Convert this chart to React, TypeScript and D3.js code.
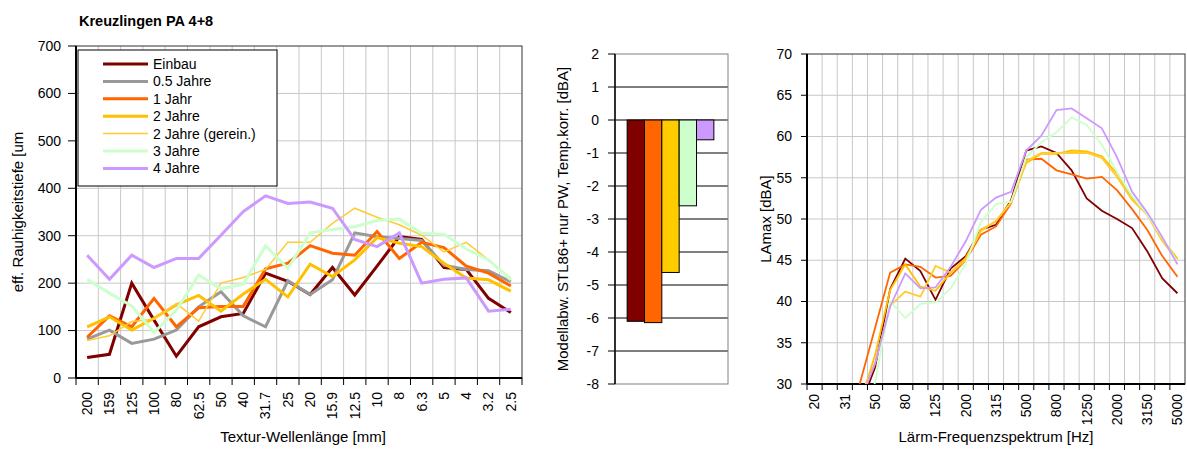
import React from 'react';
import * as d3 from 'd3';

// ---------- DATA ----------
const title = 'Kreuzlingen PA 4+8';
const wavelengths = ['200', '159', '125', '100', '80', '62.5', '50', '40', '31.7', '25', '20', '15.9', '12.5', '10', '8', '6.3', '5', '4', '3.2', '2.5'];
const seriesNames = ['Einbau', '0.5 Jahre', '1 Jahr', '2 Jahre', '2 Jahre (gerein.)', '3 Jahre', '4 Jahre'];
const seriesColors = ['#800000', '#999999', '#FF6600', '#FFC000', '#FFCC33', '#CCFFCC', '#CC99FF'];
const seriesWidths = [3, 3, 3, 3, 1.5, 3, 3];

const texEinbau = [43, 50, 200, 122, 46, 108, 129, 136, 221, 204, 176, 233, 175, 236, 298, 292, 233, 229, 168, 138];
const tex05 = [82, 101, 73, 82, 101, 150, 182, 131, 108, 205, 176, 207, 306, 298, 294, 290, 238, 229, 226, 203];
const tex1 = [86, 131, 108, 168, 108, 148, 151, 151, 230, 242, 279, 263, 259, 309, 252, 286, 275, 236, 221, 194];
const tex2 = [108, 129, 101, 126, 154, 174, 141, 177, 208, 171, 240, 214, 249, 296, 284, 277, 242, 211, 207, 183];
const tex2g = [79, 89, 119, 124, 157, 120, 200, 212, 229, 286, 286, 326, 358, 339, 323, 301, 266, 286, 249, 210];
const tex3 = [208, 179, 152, 96, 143, 217, 188, 198, 279, 231, 306, 313, 319, 332, 335, 305, 303, 272, 249, 207];
const tex4 = [259, 208, 259, 233, 252, 252, 301, 351, 384, 368, 371, 358, 292, 277, 306, 200, 208, 211, 141, 145];

const barSeries = ['Einbau', '1 Jahr', '2 Jahre', '3 Jahre', '4 Jahre'];
const barColors = ['#800000', '#FF6600', '#FFCC00', '#CCFFCC', '#CC99FF'];
const barValues = [-6.1, -6.14, -4.62, -2.6, -0.6];

const freqs = ['20', '25', '31', '40', '50', '63', '80', '100', '125', '160', '200', '250', '315', '400', '500', '630', '800', '1000', '1250', '1600', '2000', '2500', '3150', '4000', '5000'];
const laEinbau = [null, null, null, 27.2, 32.0, 41.5, 45.2, 43.7, 40.2, 44.0, 45.5, 48.7, 49.3, 52.3, 58.3, 58.8, 58.0, 55.9, 52.5, 51.0, 50.0, 48.9, 46.1, 42.8, 41.0];
const la1 = [null, null, 24, 30.1, 36.8, 43.5, 44.5, 44.2, 42.9, 43.1, 45.0, 48.1, 49.1, 51.9, 57.2, 57.3, 55.9, 55.4, 54.9, 55.1, 53.5, 51.2, 48.7, 45.5, 43.0];
const la2 = [null, null, null, 27.5, 33.5, 41.4, 44.5, 41.8, 41.3, 43.5, 45.3, 48.7, 49.7, 52.1, 56.8, 57.9, 57.9, 58.3, 58.2, 57.6, 55.5, 52.5, 50.7, 47.5, 45.2];
const la2g = [null, null, null, 28.5, 32.5, 39.5, 41.2, 40.6, 44.3, 43.5, 45.0, 48.5, 49.8, 52.0, 57.0, 58.0, 58.0, 58.0, 58.0, 57.4, 55.1, 52.3, 50.5, 47.3, 45.0];
const la3 = [null, null, null, 24, 30.2, 40.0, 38.0, 39.7, 39.9, 41.6, 44.6, 49.6, 51.8, 52.1, 57.5, 59.3, 60.5, 62.3, 61.4, 59.0, 55.7, 52.8, 50.6, 47.7, 44.8];
const la4 = [null, null, null, 27.8, 32.5, 39.4, 43.4, 41.6, 41.7, 44.2, 47.3, 51.1, 52.6, 53.3, 58.3, 60.1, 63.2, 63.4, 62.2, 61.0, 57.5, 53.3, 50.8, 47.8, 44.5];
const laColors = ['#800000', '#FF6600', '#FFC000', '#FFCC33', '#CCFFCC', '#CC99FF'];

const texSeries = [texEinbau, tex05, tex1, tex2, tex2g, tex3, tex4];
const laSeries = [laEinbau, la1, la2, la2g, la3, la4];

const FONT = '"Liberation Sans", Arial, sans-serif';
const GRID = '#C8C8C8';
const FS = 14;
const FT = 15;

export default function App() {
  // left chart
  const L = { x0: 76, x1: 522, y0: 378, y1: 46 };
  const xL = d3.scaleBand<string>().domain(wavelengths).range([L.x0, L.x1]);
  const yL = d3.scaleLinear().domain([0, 700]).range([L.y0, L.y1]);
  const cxL = (d: string) => (xL(d) as number) + xL.bandwidth() / 2;
  const lineL = d3.line<number>().x((_, i) => cxL(wavelengths[i])).y((v) => yL(v));
  const yTicksL = d3.range(0, 701, 100);

  // middle bars
  const M = { x0: 615, x1: 728, y0: 384, y1: 54 };
  const xM = d3.scaleBand<string>().domain(barSeries).range([615, 726]).paddingInner(0).paddingOuter(0.7);
  const yM = d3.scaleLinear().domain([-8, 2]).range([M.y0, M.y1]);
  const yTicksM = d3.range(-8, 3, 1);

  // right chart
  const R = { x0: 807, x1: 1185, y0: 384, y1: 54 };
  const xR = d3.scaleBand<string>().domain(freqs).range([R.x0, R.x1]);
  const yR = d3.scaleLinear().domain([30, 70]).range([R.y0, R.y1]);
  const cxR = (d: string) => (xR(d) as number) + xR.bandwidth() / 2;
  const lineR = d3
    .line<number | null>()
    .defined((v) => v !== null)
    .x((_, i) => cxR(freqs[i]))
    .y((v) => yR(v as number));
  const yTicksR = d3.range(30, 71, 5);

  const legendY = [64, 81.4, 98.8, 116.2, 133.6, 151, 168.4];

  return (
    <svg width={1187} height={454} style={{ position: 'absolute', left: 0, top: 0, background: '#fff' }} fontFamily={FONT}>
      <defs>
        <clipPath id="clipR">
          <rect x={R.x0} y={R.y1} width={R.x1 - R.x0} height={R.y0 - R.y1} />
        </clipPath>
      </defs>
      <text x={79} y={26} fontSize={14.5} fontWeight="bold" fill="#000">{title}</text>

      {/* ---------- LEFT CHART ---------- */}
      {yTicksL.slice(1, -1).map((t) => (
        <line key={'lg' + t} x1={L.x0} x2={L.x1} y1={yL(t)} y2={yL(t)} stroke={GRID} />
      ))}
      {wavelengths.map((w, i) =>
        i === 0 ? null : <line key={'lv' + w} x1={xL(w)} x2={xL(w)} y1={L.y1} y2={L.y0} stroke={GRID} />
      )}
      <rect x={L.x0} y={L.y1} width={L.x1 - L.x0} height={L.y0 - L.y1} fill="none" stroke="#333" strokeWidth={1} />
      <line x1={L.x0} x2={L.x0} y1={L.y1} y2={L.y0} stroke="#000" strokeWidth={2} />
      <line x1={L.x0} x2={L.x1} y1={L.y0} y2={L.y0} stroke="#000" strokeWidth={2} />
      {yTicksL.map((t) => (
        <g key={'lt' + t}>
          <line x1={68} x2={L.x0} y1={yL(t)} y2={yL(t)} stroke="#000" />
          <text x={61} y={yL(t)} dy="0.35em" fontSize={FS} textAnchor="end">{t}</text>
        </g>
      ))}
      {wavelengths.map((w) => (
        <line key={'lbt' + w} x1={xL(w)} x2={xL(w)} y1={L.y0} y2={L.y0 + 7} stroke="#000" />
      ))}
      <line x1={L.x1} x2={L.x1} y1={L.y0} y2={L.y0 + 7} stroke="#000" />
      {wavelengths.map((w) => (
        <text key={'lx' + w} transform={`translate(${cxL(w)},392) rotate(-90)`} dy="0.35em" fontSize={FS} textAnchor="end">{w}</text>
      ))}
      <text x={(L.x0 + L.x1) / 2 + 4} y={442} fontSize={FT} textAnchor="middle">Textur-Wellenlänge [mm]</text>
      <text transform={`translate(18,${(L.y0 + L.y1) / 2}) rotate(-90)`} dy="0.35em" fontSize={FT} textAnchor="middle">eff. Rauhigkeitstiefe [um</text>

      {texSeries.map((s, k) => (
        <path key={'ls' + k} d={lineL(s) as string} fill="none" stroke={seriesColors[k]} strokeWidth={seriesWidths[k]} strokeLinejoin="miter" />
      ))}

      {/* legend */}
      <rect x={78} y={50} width={199} height={136} fill="#fff" stroke="#000" strokeWidth={1} />
      {seriesNames.map((n, k) => (
        <g key={'lgd' + k}>
          <line x1={103} x2={148} y1={legendY[k]} y2={legendY[k]} stroke={seriesColors[k]} strokeWidth={seriesWidths[k]} />
          <text x={153} y={legendY[k]} dy="0.35em" fontSize={FS}>{n}</text>
        </g>
      ))}

      {/* ---------- MIDDLE BAR CHART ---------- */}
      {yTicksM.slice(1, -1).map((t) => (
        <line key={'mg' + t} x1={M.x0} x2={M.x1} y1={yM(t)} y2={yM(t)} stroke="#000" />
      ))}
      <rect x={M.x0} y={M.y1} width={M.x1 - M.x0} height={M.y0 - M.y1} fill="none" stroke="#808080" />
      <line x1={M.x0} x2={M.x0} y1={M.y1} y2={M.y0} stroke="#000" strokeWidth={1.5} />
      {yTicksM.map((t) => (
        <g key={'mt' + t}>
          <line x1={608} x2={M.x0} y1={yM(t)} y2={yM(t)} stroke="#000" />
          <text x={599} y={yM(t)} dy="0.35em" fontSize={FS} textAnchor="end">{t}</text>
        </g>
      ))}
      {barSeries.map((b, k) => (
        <rect
          key={'bar' + b}
          x={xM(b)}
          y={yM(Math.max(0, barValues[k]))}
          width={xM.bandwidth()}
          height={Math.abs(yM(barValues[k]) - yM(0))}
          fill={barColors[k]}
          stroke="#000"
          strokeWidth={1}
        />
      ))}
      <text transform={`translate(563,${(M.y0 + M.y1) / 2}) rotate(-90)`} dy="0.35em" fontSize={FT} textAnchor="middle">Modellabw. STL86+ nur PW, Temp.korr. [dBA]</text>

      {/* ---------- RIGHT CHART ---------- */}
      {yTicksR.slice(1, -1).map((t) => (
        <line key={'rg' + t} x1={R.x0} x2={R.x1} y1={yR(t)} y2={yR(t)} stroke={GRID} />
      ))}
      {freqs.map((f, i) =>
        i === 0 ? null : <line key={'rv' + f} x1={xR(f)} x2={xR(f)} y1={R.y1} y2={R.y0} stroke={GRID} />
      )}
      <rect x={R.x0} y={R.y1} width={R.x1 - R.x0} height={R.y0 - R.y1} fill="none" stroke="#333" />
      <line x1={R.x0} x2={R.x0} y1={R.y1} y2={R.y0} stroke="#000" strokeWidth={2} />
      <line x1={R.x0} x2={R.x1} y1={R.y0} y2={R.y0} stroke="#000" strokeWidth={2} />
      {yTicksR.map((t) => (
        <g key={'rt' + t}>
          <line x1={801} x2={R.x0} y1={yR(t)} y2={yR(t)} stroke="#000" />
          <text x={792} y={yR(t)} dy="0.35em" fontSize={FS} textAnchor="end">{t}</text>
        </g>
      ))}
      {freqs.map((f) => (
        <line key={'rbt' + f} x1={xR(f)} x2={xR(f)} y1={R.y0} y2={R.y0 + 6} stroke="#000" />
      ))}
      {freqs.map((f, i) =>
        i % 2 === 0 ? (
          <text key={'rx' + f} transform={`translate(${cxR(f)},394) rotate(-90)`} dy="0.35em" fontSize={FS} textAnchor="end">{f}</text>
        ) : null
      )}
      <text x={(R.x0 + R.x1) / 2} y={442} fontSize={FT} textAnchor="middle">Lärm-Frequenzspektrum [Hz]</text>
      <text transform={`translate(766,${(R.y0 + R.y1) / 2}) rotate(-90)`} dy="0.35em" fontSize={FT} textAnchor="middle">LAmax [dBA]</text>
      <g clipPath="url(#clipR)">
        {laSeries.map((s, k) => (
          <path key={'rs' + k} d={lineR(s) as string} fill="none" stroke={laColors[k]} strokeWidth={1.8} />
        ))}
      </g>
    </svg>
  );
}
